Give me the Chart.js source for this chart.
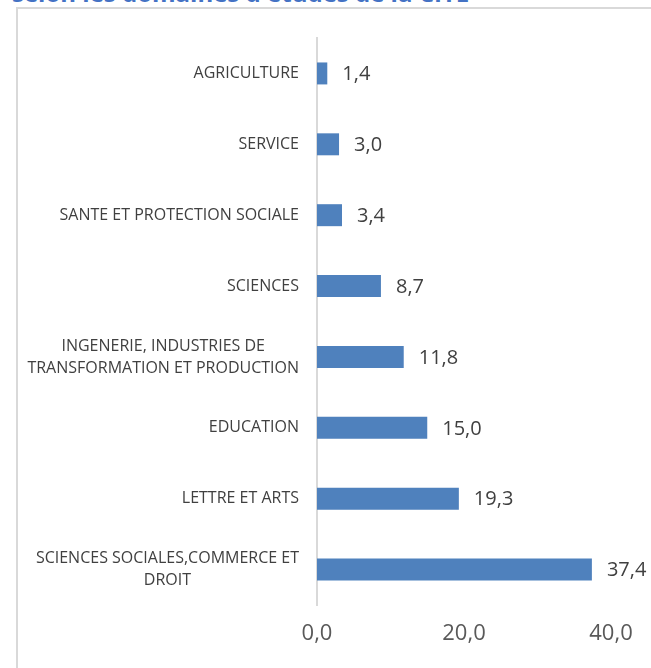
<!DOCTYPE html>
<html>
<head>
<meta charset="utf-8">
<script src="https://cdn.jsdelivr.net/npm/chart.js"></script>
<style>
  body { margin: 0; background: #fff; }
  #wrap { position: relative; width: 651px; height: 668px; overflow: hidden; }
  #title { position: absolute; left: 12px; top: -19px; font: bold 24px "Open Sans", sans-serif; color: #4472C4; white-space: nowrap; line-height: 24px; }
  #box { position: absolute; left: 16px; top: 7px; width: 700px; height: 700px; border: 2px solid #d9d9d9; box-sizing: border-box; }
  #chart1 { position: absolute; left: 0; top: 0; }
</style>
</head>
<body>
<div id="wrap">
  <div id="title">selon les domaines d'études de la CITE</div>
  <div id="box"></div>
  <canvas id="chart1" width="651" height="668"></canvas>
</div>
<script>
const domaines = [
    'AGRICULTURE',
    'SERVICE',
    'SANTE ET PROTECTION SOCIALE',
    'SCIENCES',
    ['INGENERIE, INDUSTRIES DE', 'TRANSFORMATION ET PRODUCTION'],
    'EDUCATION',
    'LETTRE ET ARTS',
    ['SCIENCES SOCIALES,COMMERCE ET', 'DROIT']
]
const pourcentages = [1.4, 3.0, 3.4, 8.7, 11.8, 15.0, 19.3, 37.4]
const xTicks = [0, 20, 40]

const virgule = v => v.toFixed(1).replace('.', ',')

// valeurs au bout des barres
const valeurs = {
    id: 'valeurs',
    afterDatasetsDraw(chart) {
        const ctx = chart.ctx
        ctx.save()
        ctx.font = '20px "Open Sans", sans-serif'
        ctx.fillStyle = '#404040'
        ctx.textAlign = 'left'
        ctx.textBaseline = 'middle'
        chart.getDatasetMeta(0).data.forEach((bar, i) => {
            ctx.fillText(virgule(pourcentages[i]), bar.x + 15, bar.y + 1)
        })
        ctx.restore()
    }
}

// libellés des catégories, lignes centrées entre elles
const libelles = {
    id: 'libelles',
    afterDraw(chart) {
        const ctx = chart.ctx
        const y = chart.scales.y
        ctx.save()
        ctx.font = '16px "Open Sans", sans-serif'
        ctx.fillStyle = '#404040'
        ctx.textAlign = 'center'
        ctx.textBaseline = 'middle'
        domaines.forEach((lab, i) => {
            const lines = Array.isArray(lab) ? lab : [lab]
            const w = Math.max(...lines.map(l => ctx.measureText(l).width))
            const cx = 299 - w / 2
            const cy = y.getPixelForTick(i)
            const lh = 22
            lines.forEach((l, j) => {
                ctx.fillText(l, cx, cy + (j - (lines.length - 1) / 2) * lh)
            })
        })
        ctx.restore()
    }
}

new Chart(document.getElementById('chart1'), {
    type: 'bar',
    data: {
        labels: domaines,
        datasets: [{
            data: pourcentages,
            backgroundColor: '#4F81BD',
            barPercentage: 0.31,
            categoryPercentage: 1
        }]
    },
    options: {
        indexAxis: 'y',
        responsive: false,
        animation: false,
        layout: { padding: { left: 0, top: 38, right: 40, bottom: 23 } },
        plugins: {
            legend: { display: false },
            tooltip: { enabled: false }
        },
        scales: {
            x: {
                min: 0,
                max: 40,
                afterBuildTicks: s => { s.ticks = xTicks.map(v => ({ value: v })) },
                grid: { display: false, drawTicks: false },
                border: { display: false },
                ticks: {
                    padding: 16,
                    color: '#595959',
                    font: { size: 22, family: '"Open Sans", sans-serif' },
                    callback: v => virgule(v),
                    maxRotation: 0
                },
                afterFit: s => { s.height = 40 }
            },
            y: {
                grid: { display: false, drawTicks: false },
                border: { display: true, color: '#d9d9d9', width: 2 },
                ticks: { display: false },
                afterFit: s => { s.width = 317 }
            }
        }
    },
    plugins: [valeurs, libelles]
})
</script>
</body>
</html>
